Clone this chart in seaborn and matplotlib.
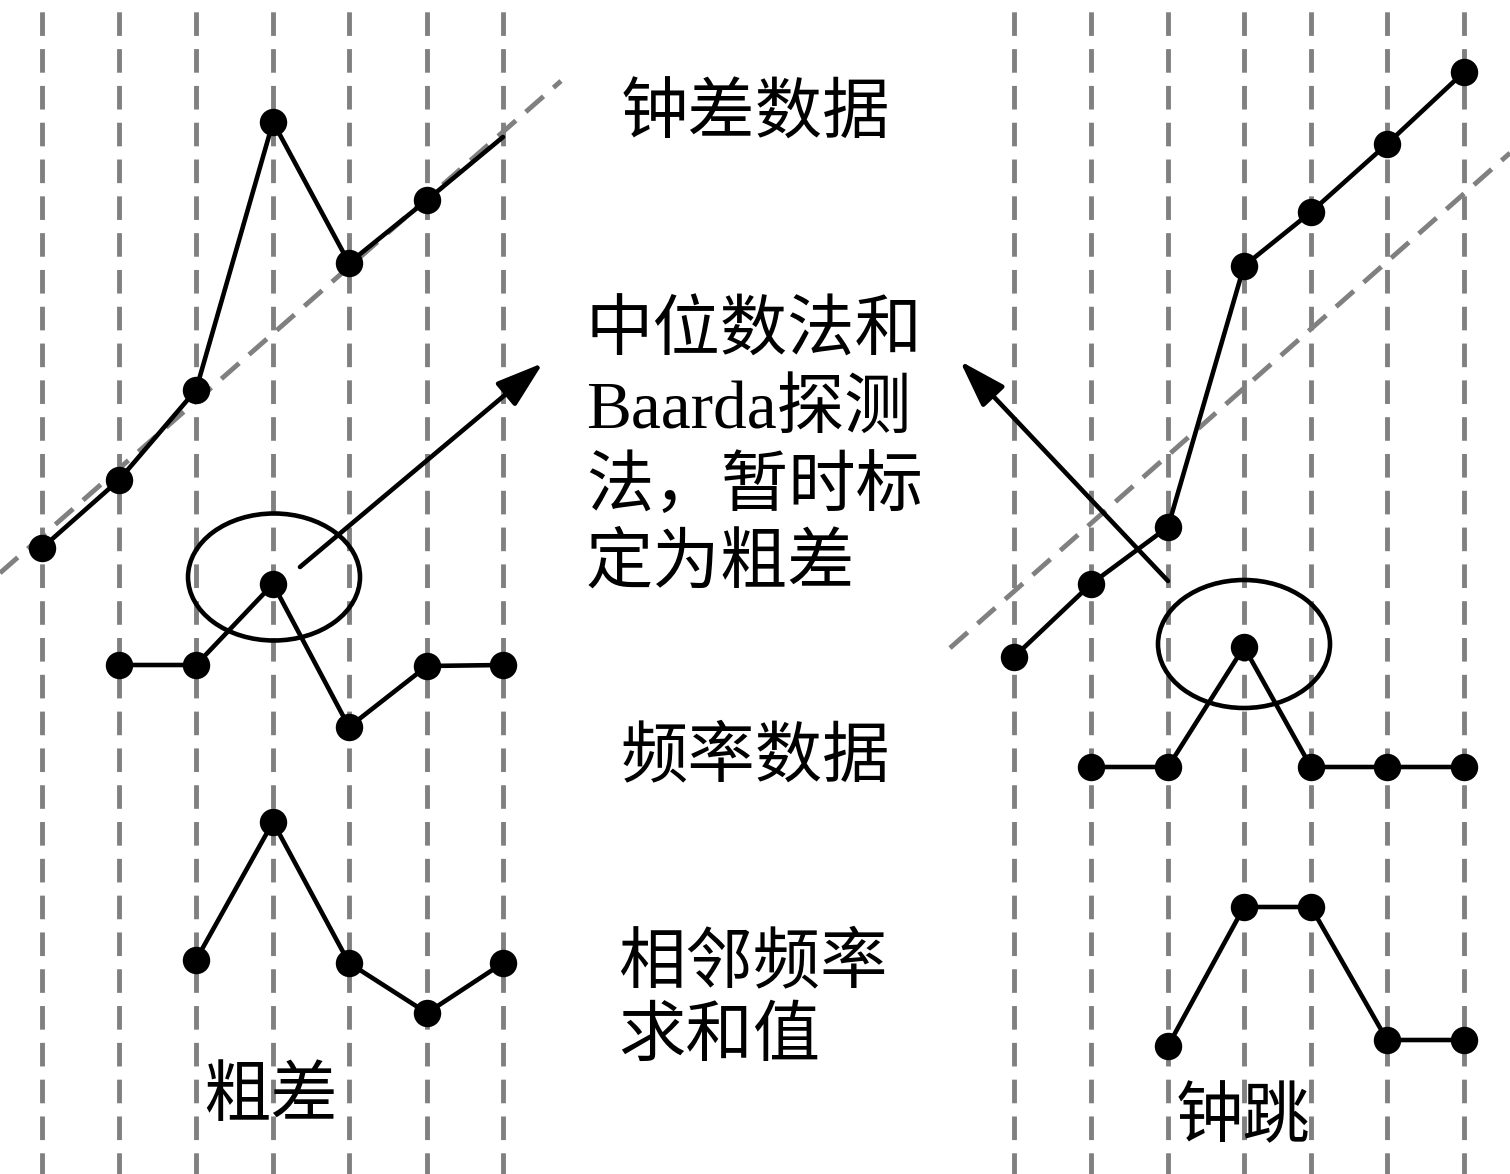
import matplotlib
matplotlib.use("Agg")
import matplotlib.pyplot as plt
from matplotlib.patches import Ellipse
import seaborn as sns

# Coordenadas en pixeles de la figura (x hacia la derecha, y hacia abajo)
W, H = 1510, 1174

# Epocas (lineas verticales discontinuas)
epochs_left = [42, 119, 196, 273, 349, 427, 503]
epochs_right = [1014, 1091, 1168, 1244, 1311, 1387, 1464]

# Caso "粗差" (izquierda)
gross_clock_x = epochs_left
gross_clock_y = [548, 480, 390, 122, 263, 200, 137]   # ultimo punto sin marcador
gross_clock_dots = 6
gross_trend_x = [0, 561]
gross_trend_y = [573, 81]
gross_freq_x = epochs_left[1:]
gross_freq_y = [665, 665, 584, 727, 666, 665]
gross_sum_x = epochs_left[2:]
gross_sum_y = [960, 822, 963, 1013, 963]
gross_ellipse = (274, 577, 172, 127)
gross_arrow = [(300, 567), (543, 363)]

# Caso "钟跳" (derecha)
jump_clock_x = epochs_right
jump_clock_y = [657, 584, 527, 266, 212, 144, 72]
jump_trend_x = [950, 1510]
jump_trend_y = [648, 153]
jump_freq_x = epochs_right[1:]
jump_freq_y = [767, 767, 647, 767, 767, 767]
jump_sum_x = epochs_right[2:]
jump_sum_y = [1046, 907, 907, 1040, 1040]
jump_ellipse = (1244, 644, 172, 128)
jump_arrow = [(1168, 581), (960, 361)]

# Textos
label_clock = "钟差数据"
label_freq = "频率数据"
label_method = ["中位数法和", "Baarda探测", "法，暂时标", "定为粗差"]
label_sum = ["相邻频率", "求和值"]
label_gross = "粗差"
label_jump = "钟跳"

sns.set_style("white")
plt.rcParams["font.family"] = ["Liberation Serif", "Noto Sans CJK SC", "DejaVu Sans"]
plt.rcParams["lines.scale_dashes"] = False
plt.rcParams["text.color"] = "black"

fig = plt.figure(figsize=(W / 100, H / 100), dpi=100)
ax = fig.add_axes([0, 0, 1, 1])
ax.set_xlim(0, W)
ax.set_ylim(H, 0)
ax.axis("off")

gray = "#808080"
lw = 3.3
fs = 48.5

# Lineas verticales de epocas
ax.vlines(epochs_left + epochs_right, 0, H, colors=gray, lw=3.5,
          linestyles=[(18, (17, 9.5))], zorder=1)

# Tendencias (gris discontinua)
for tx, ty in [(gross_trend_x, gross_trend_y), (jump_trend_x, jump_trend_y)]:
    sns.lineplot(x=tx, y=ty, ax=ax, color=gray, lw=3.5, sort=False,
                 linestyle=(0, (17, 9.5)), zorder=2)

# Series negras
series = [
    (gross_clock_x, gross_clock_y, gross_clock_dots),
    (gross_freq_x, gross_freq_y, None),
    (gross_sum_x, gross_sum_y, None),
    (jump_clock_x, jump_clock_y, None),
    (jump_freq_x, jump_freq_y, None),
    (jump_sum_x, jump_sum_y, None),
]
for sx, sy, ndots in series:
    sns.lineplot(x=sx, y=sy, ax=ax, color="black", lw=lw, sort=False, zorder=3)
    n = len(sx) if ndots is None else ndots
    sns.scatterplot(x=sx[:n], y=sy[:n], ax=ax, color="black", s=390,
                    linewidth=0, zorder=4)

# Elipses
for cx, cy, ew, eh in [gross_ellipse, jump_ellipse]:
    ax.add_patch(Ellipse((cx, cy), ew, eh, fill=False, edgecolor="black",
                         lw=lw, zorder=3))

# Flechas
for start, tip in [gross_arrow, jump_arrow]:
    ax.annotate("", xy=tip, xytext=start,
                arrowprops=dict(arrowstyle="-|>,head_length=1.45,head_width=0.47",
                                color="black", lw=lw, mutation_scale=20,
                                shrinkA=0, shrinkB=0), zorder=4)

# Textos
ax.text(755, 117, label_clock, fontsize=fs, ha="center", va="center", color="black")
ax.text(755, 759, label_freq, fontsize=fs, ha="center", va="center", color="black")
for i, line in enumerate(label_method):
    ax.text(586, 334 + 77 * i, line, fontsize=fs, ha="left", va="center", color="black")
for i, line in enumerate(label_sum):
    ax.text(618, 965 + 74 * i, line, fontsize=fs, ha="left", va="center", color="black")
ax.text(271, 1099, label_gross, fontsize=fs, ha="center", va="center", color="black")
ax.text(1243, 1120, label_jump, fontsize=fs, ha="center", va="center", color="black")

fig.savefig("out.png", dpi=100)
